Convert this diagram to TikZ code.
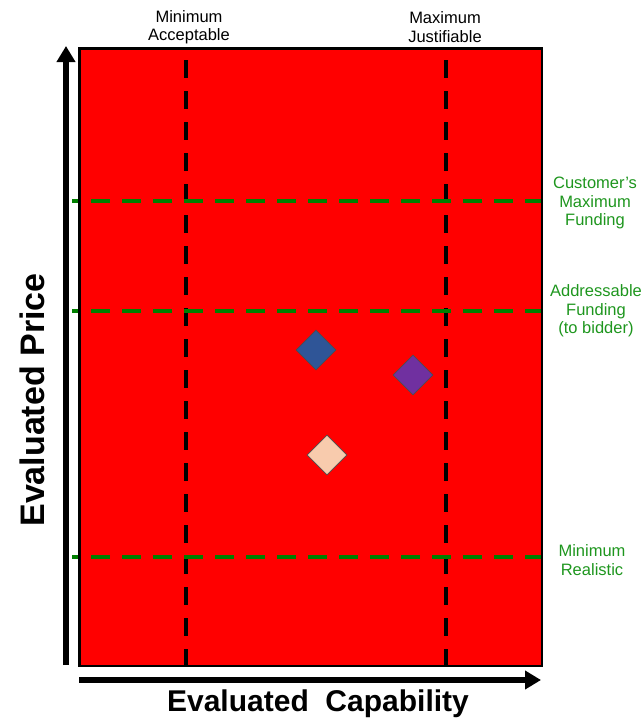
\documentclass[tikz,border=0pt]{standalone}
\usepackage{fontspec}
\setmainfont{Liberation Sans}
\usetikzlibrary{arrows.meta,shapes.geometric}
\definecolor{gridgreen}{RGB}{0,128,0}
\definecolor{labgreen}{RGB}{30,150,30}
\definecolor{dblue}{RGB}{47,85,151}
\definecolor{dpurple}{RGB}{112,48,160}
\definecolor{dpeach}{RGB}{248,203,173}
\begin{document}
\begin{tikzpicture}[x=1pt,y=-1pt,
  vline/.style={black,line width=4.5pt,dash pattern=on 18pt off 13pt},
  hline/.style={gridgreen,line width=4pt,dash pattern=on 19pt off 12pt,dash phase=12pt},
  axis/.style={black,line width=6pt,-{Triangle[width=18pt,length=16pt]}},
  toplab/.style={font=\fontsize{16.5}{18.5}\selectfont,align=center,text=black,inner sep=0pt},
  rightlab/.style={font=\fontsize{16.5}{18.5}\selectfont,align=center,text=labgreen,inner sep=0pt},
  gem/.style={diamond,draw=black!70,line width=0.8pt,minimum width=40pt,minimum height=40pt,inner sep=0pt},
  axlab/.style={font=\bfseries\fontsize{31}{36}\selectfont}]
\useasboundingbox (0,0) rectangle (644,721);
\node[draw=black,line width=1.5pt,fill=red,minimum width=462pt,minimum height=617pt,inner sep=0pt,anchor=north west] (plot) at (79,48) {};
% vertical dashed lines
\coordinate (va1) at (186,60); \coordinate (vb1) at (186,665);
\coordinate (va2) at (446,60); \coordinate (vb2) at (446,665);
\draw[vline] (va1) -- (vb1);
\draw[vline] (va2) -- (vb2);
% horizontal dashed lines
\coordinate (h1a) at (72,201); \coordinate (h1b) at (541,201);
\coordinate (h2a) at (72,311); \coordinate (h2b) at (541,311);
\coordinate (h3a) at (72,557); \coordinate (h3b) at (541,557);
\draw[hline] (h1a) -- (h1b);
\draw[hline] (h2a) -- (h2b);
\draw[hline] (h3a) -- (h3b);
\draw[black,line width=1.5pt] (plot.north west) rectangle (plot.south east);
% axes
\coordinate (yo) at (66,665); \coordinate (ye) at (66,46);
\coordinate (xo) at (79,680); \coordinate (xe) at (541,680);
\draw[axis] (yo) -- (ye);
\draw[axis] (xo) -- (xe);
\node[axlab,rotate=90,font=\bfseries\fontsize{34}{38}\selectfont] (ylab) at (32,400) {Evaluated Price};
\node[axlab,font=\bfseries\fontsize{30}{36}\selectfont] (xlab) at (318,704) {Evaluated\ \ Capability};
% top labels
\node[toplab] (tl1) at (189,27) {Minimum\\Acceptable};
\node[toplab] (tl2) at (445,27) {Maximum\\Justifiable};
% right labels
\node[rightlab] (rl1) at (595,203) {Customer’s\\Maximum\\Funding};
\node[rightlab] (rl2) at (596,311) {Addressable\\Funding\\(to bidder)};
\node[rightlab] (rl3) at (592,560) {Minimum\\Realistic};
% diamonds
\node[gem,fill=dblue] (d1) at (316,350) {};
\node[gem,fill=dpurple] (d2) at (413,375) {};
\node[gem,fill=dpeach] (d3) at (327,455) {};
\end{tikzpicture}
\end{document}
